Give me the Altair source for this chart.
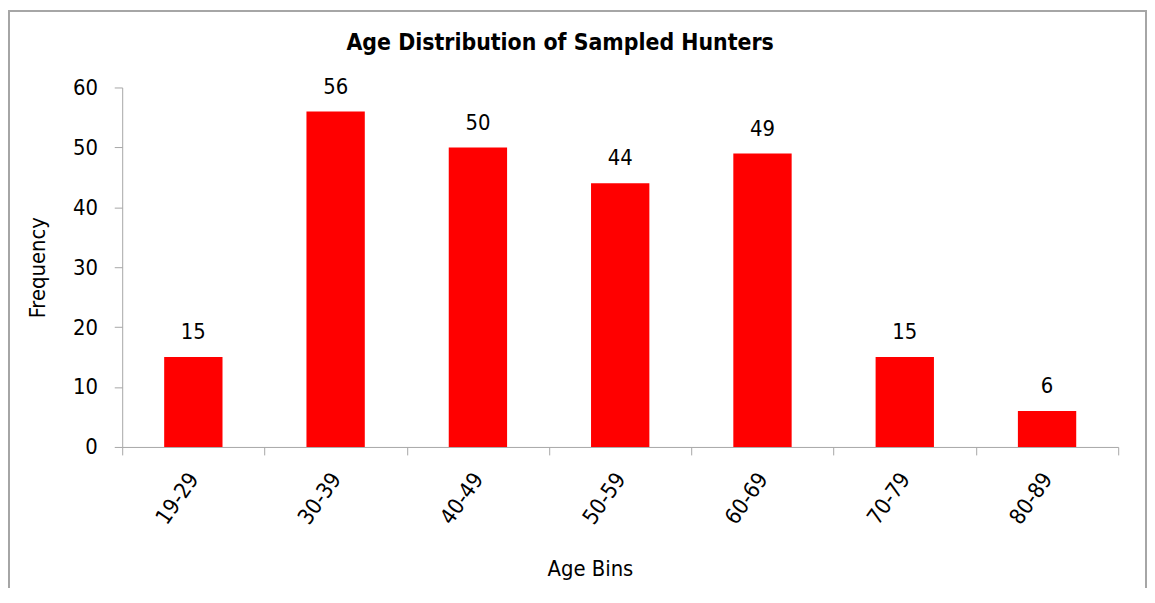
import altair as alt
import pandas as pd

bins = ["19-29", "30-39", "40-49", "50-59", "60-69", "70-79", "80-89"]
freq = [15, 56, 50, 44, 49, 15, 6]
chart_title = "Age Distribution of Sampled Hunters"

df = pd.DataFrame({"bin": bins, "freq": freq})

FONT = "DejaVu Sans Condensed"
AXIS_COLOR = "#A6A6A6"
FS = 22

base = alt.Chart(df).encode(
    x=alt.X(
        "bin:N",
        sort=bins,
        title="Age Bins",
        scale=alt.Scale(paddingInner=0, paddingOuter=0),
        axis=alt.Axis(
            labelAngle=-55,
            labelFontSize=FS,
            labelFont=FONT,
            labelColor="#000000",
            labelPadding=20,
            tickBand="extent",
            tickSize=8,
            tickColor=AXIS_COLOR,
            domainColor=AXIS_COLOR,
            titleFontSize=FS,
            titleFont=FONT,
            titleFontWeight="normal",
            titleColor="#000000",
            titleX=471,
            titleY=122,
            titleBaseline="middle",
            titleAlign="center",
        ),
    ),
    y=alt.Y(
        "freq:Q",
        title="Frequency",
        scale=alt.Scale(domain=[0, 60]),
        axis=alt.Axis(
            values=[0, 10, 20, 30, 40, 50, 60],
            grid=False,
            labelFontSize=FS,
            labelFont=FONT,
            labelColor="#000000",
            labelPadding=17,
            tickSize=8,
            tickColor=AXIS_COLOR,
            domainColor=AXIS_COLOR,
            titleFontSize=FS,
            titleFont=FONT,
            titleFontWeight="normal",
            titleColor="#000000",
            titleX=-85,
            titleY=181,
            titleBaseline="middle",
            titleAlign="center",
        ),
    ),
)

bars = base.mark_bar(color="#FF0000", width=alt.RelativeBandSize(0.41))
labels = base.mark_text(dy=-25, fontSize=FS, font=FONT, color="#000000", baseline="middle").encode(
    text="freq:Q"
)

border = alt.Chart(df).mark_rect(filled=False, stroke="#A6A6A6", strokeWidth=1.5).encode(
    x=alt.value(-114),
    x2=alt.value(1031),
    y=alt.value(-77),
    y2=alt.value(520),
)

title_mark = alt.Chart(pd.DataFrame({"t": [chart_title]})).mark_text(
    font=FONT, fontSize=23, fontWeight="bold", color="#000000",
    align="center", baseline="alphabetic",
).encode(
    text="t:N",
    x=alt.value(441),
    y=alt.value(-38),
)

chart = (
    (bars + labels + border + title_mark)
    .properties(
        width=1003,
        height=362,
        autosize=alt.AutoSizeParams(type="none"),
        padding={"left": 115, "top": 78, "right": 29, "bottom": 140},
    )
    .configure_view(stroke=None)
)

chart.save("out.html", embed_options={"renderer": "svg", "actions": False})
